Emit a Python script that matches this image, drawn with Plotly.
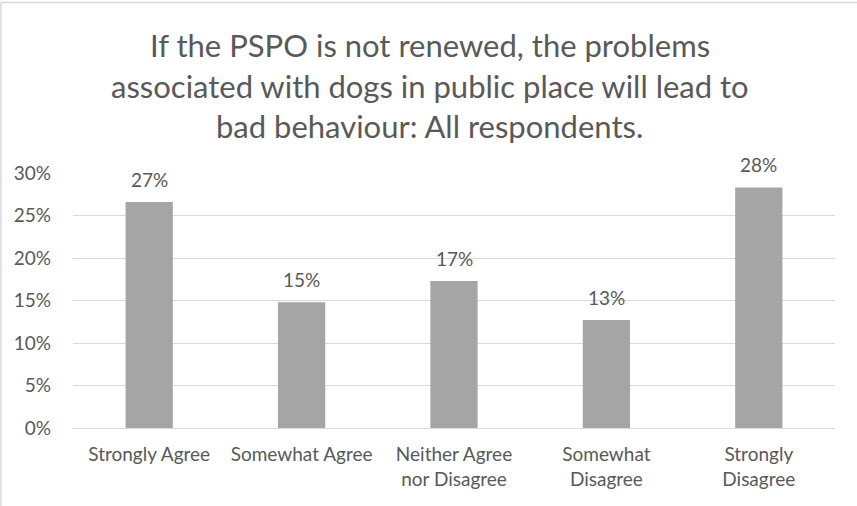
import plotly.graph_objects as go

# Survey responses (share of all respondents)
categories = ["Strongly Agree", "Somewhat Agree", "Neither Agree<br>nor Disagree",
              "Somewhat<br>Disagree", "Strongly<br>Disagree"]
shares = [0.266, 0.148, 0.173, 0.127, 0.283]
title_lines = [
    "If the PSPO is not renewed, the problems",
    "associated with dogs in public place will lead to",
    "bad behaviour: All respondents.",
]
y_ticks = [0, 0.05, 0.10, 0.15, 0.20, 0.25, 0.30]

FONT = "Lato, Carlito, Calibri, sans-serif"
TEXT = "#595959"
GRID = "#D9D9D9"
BAR = "#A5A5A5"

W, H = 857, 506
ML, MR, MT, MB = 73, 22, 173, 78
plot_w = W - ML - MR
plot_h = H - MT - MB

fig = go.Figure(
    go.Bar(
        x=categories,
        y=shares,
        marker=dict(color=BAR, line=dict(width=0)),
        width=0.31,
        hoverinfo="skip",
    )
)

# value labels above each bar
for c, v in zip(categories, shares):
    fig.add_annotation(
        x=c, y=v, text=f"{round(v * 100)}%", showarrow=False,
        yanchor="bottom", yshift=9,
        font=dict(family=FONT, size=19, color=TEXT),
    )

# three-line chart title, centred on the whole chart
for i, line in enumerate(title_lines):
    y_px = 45 + 40.5 * i
    fig.add_annotation(
        xref="paper", yref="paper",
        x=(W / 2 + 1 - ML) / plot_w, y=(H - MB - y_px) / plot_h,
        text=line, showarrow=False, xanchor="center", yanchor="middle",
        font=dict(family=FONT, size=31, color=TEXT),
    )

# chart frame edges along the top and left
def px_x(px):
    return (px - ML) / plot_w

def px_y(px):
    return (H - MB - px) / plot_h

frame = dict(color=GRID, width=1.5)
fig.add_shape(type="line", xref="paper", yref="paper",
              x0=px_x(1), x1=px_x(W), y0=px_y(2.5), y1=px_y(2.5), line=frame)
fig.add_shape(type="line", xref="paper", yref="paper",
              x0=px_x(1), x1=px_x(1), y0=px_y(2.5), y1=px_y(H), line=frame)

fig.update_layout(
    width=W, height=H,
    margin=dict(l=ML, r=MR, t=MT, b=MB),
    paper_bgcolor="white", plot_bgcolor="white",
    showlegend=False,
    font=dict(family=FONT, color=TEXT, size=19),
    xaxis=dict(
        showgrid=False, showline=False, zeroline=False, ticks="",
        tickfont=dict(family=FONT, size=19, color=TEXT),
        ticklabelstandoff=13,
    ),
    yaxis=dict(
        range=[0, 0.30], tickvals=y_ticks, tickformat=".0%",
        showgrid=True, gridcolor=GRID, gridwidth=1.3,
        zeroline=True, zerolinecolor=GRID, zerolinewidth=1.3,
        showline=False, ticks="",
        tickfont=dict(family=FONT, size=19, color=TEXT),
        ticklabelstandoff=21,
    ),
)

fig.write_html("out.html")
